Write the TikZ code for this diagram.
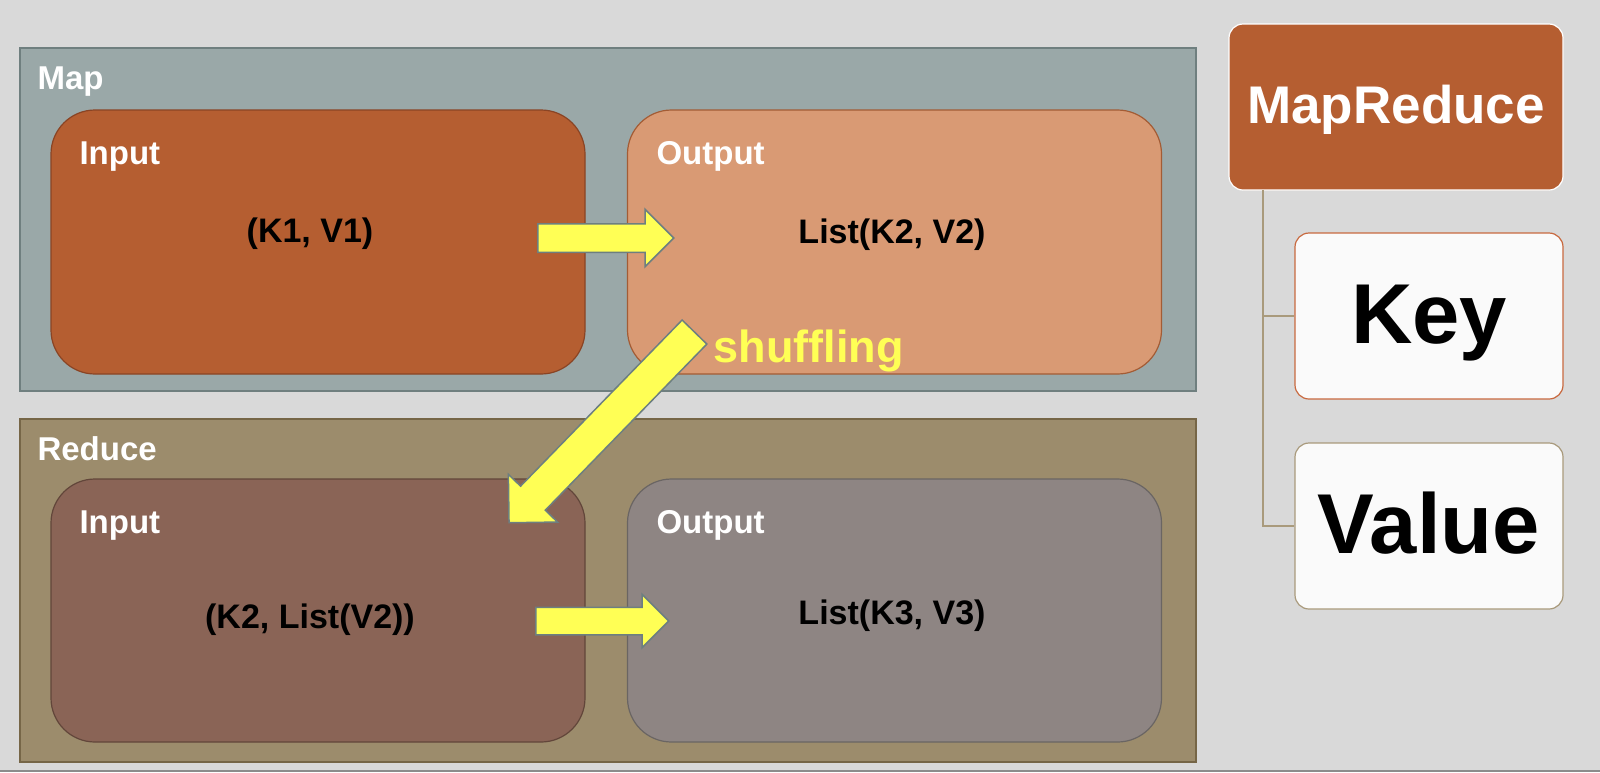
\documentclass[tikz,border=0pt]{standalone}
\usepackage{fontspec}
\setmainfont{Liberation Sans}
\usetikzlibrary{shapes.arrows}
\definecolor{slidebg}{HTML}{D9D9D9}
\definecolor{mapbg}{HTML}{9AA8A8}
\definecolor{mapedge}{HTML}{6F7F7F}
\definecolor{redbg}{HTML}{9C8C6C}
\definecolor{rededge}{HTML}{766647}
\definecolor{mapinbg}{HTML}{B55E31}
\definecolor{mapinedge}{HTML}{8A4424}
\definecolor{mapoutbg}{HTML}{D99A74}
\definecolor{mapoutedge}{HTML}{A35C35}
\definecolor{redinbg}{HTML}{8A6456}
\definecolor{redinedge}{HTML}{62463A}
\definecolor{redoutbg}{HTML}{8E8583}
\definecolor{redoutedge}{HTML}{6A6563}
\definecolor{flowyellow}{HTML}{FFFF55}
\definecolor{flowedge}{HTML}{6D7F80}
\definecolor{tilebg}{HTML}{FAFAFA}
\definecolor{keyedge}{HTML}{C8693F}
\definecolor{valueedge}{HTML}{A99A7C}
\definecolor{bottomrule}{HTML}{8C8C8C}
\begin{document}
\begin{tikzpicture}[x=1pt, y=-1pt,
    frame/.style={line width=1.2pt, minimum width=1176pt, minimum height=343pt},
    stage/.style={rounded corners=44pt, line width=1.2pt, minimum width=534pt, minimum height=264pt},
    tag/.style={anchor=base west, text=white, font=\bfseries\fontsize{33}{33}\selectfont},
    pair/.style={anchor=base, font=\bfseries\fontsize{34}{34}\selectfont},
    flow/.style={single arrow, draw=flowedge, fill=flowyellow, line width=1.5pt,
        anchor=tail, inner xsep=0pt},
    tile/.style={rounded corners=14pt, minimum width=268pt, minimum height=166pt, line width=1.2pt,
        text height=61pt, text depth=7pt, font=\bfseries\fontsize{85}{85}\selectfont},
    tree/.style={draw=valueedge, line width=1.2pt}
]
\fill[slidebg] (0,0) rectangle (1600,772);
\useasboundingbox (0,0) rectangle (1600,772);
\draw[line width=2pt, bottomrule] (0,771) -- (1600,771);

\node[frame, draw=mapedge, fill=mapbg] (map) at (608,219.5) {};
\node[frame, draw=rededge, fill=redbg] (reduce) at (608,590.5) {};
\node[stage, draw=mapinedge, fill=mapinbg] (mapin) at (318,242) {};
\node[stage, draw=mapoutedge, fill=mapoutbg] (mapout) at (894.5,242) {};
\node[stage, draw=redinedge, fill=redinbg, minimum height=263pt] (redin) at (318,610.5) {};
\node[stage, draw=redoutedge, fill=redoutbg, minimum height=263pt] (redout) at (894.5,610.5) {};

\node[tag] (maptag) at (34,89) {Map};
\node[tag] (mapintag) at (76,164) {Input};
\node[tag] (mapouttag) at (653,164) {Output};
\node[tag] (redtag) at (34,460) {Reduce};
\node[tag] (redintag) at (76,533) {Input};
\node[tag] (redouttag) at (653,533) {Output};

\node[pair] (kv1) at (310,242) {(K1, V1)};
\node[pair] (kv2) at (892,243) {List(K2, V2)};
\node[pair] (kvlist) at (310,628) {(K2, List(V2))};
\node[pair] (kv3) at (892,624) {List(K3, V3)};

\node[flow, minimum height=136pt, minimum width=56pt, inner ysep=13.5pt,
    single arrow head extend=14.5pt] (mapflow) at (537,238) {};
\node[flow, minimum height=133pt, minimum width=52pt, inner ysep=13pt,
    single arrow head extend=13pt] (redflow) at (535,621) {};
\node[flow, minimum height=266pt, minimum width=67pt, inner ysep=16.5pt,
    single arrow head extend=17pt, rotate=225.8] (shuffle) at (695,331.5) {};
\node[anchor=base west, text=flowyellow, font=\bfseries\fontsize{45}{45}\selectfont] (shuffletag) at (710,362) {shuffling};

\node[tile, minimum width=334pt, fill=mapinbg, draw=white, text=white, text height=38pt, text depth=6pt,
    font=\bfseries\fontsize{53}{53}\selectfont] (mr) at (1396,107) {MapReduce};
\node[tile, fill=tilebg, draw=keyedge] (key) at (1429,316) {Key};
\node[tile, fill=tilebg, draw=valueedge] (value) at (1429,526) {Value};
\coordinate (stem) at (1263,190);
\draw[tree] (stem) |- (key.west);
\draw[tree] (stem) |- (value.west);
\end{tikzpicture}
\end{document}
